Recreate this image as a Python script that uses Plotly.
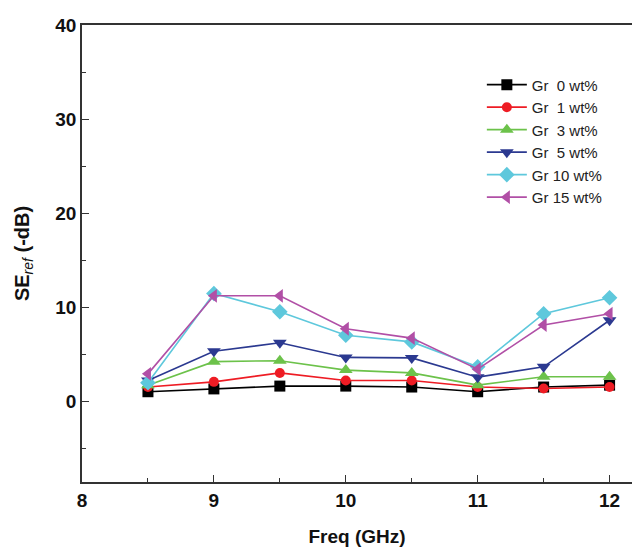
import plotly.graph_objects as go

freq = [8.5, 9.0, 9.5, 10.0, 10.5, 11.0, 11.5, 12.0]

gr0 = [1.0, 1.3, 1.6, 1.6, 1.5, 1.0, 1.5, 1.7]
gr1 = [1.5, 2.05, 3.0, 2.2, 2.2, 1.5, 1.35, 1.5]
gr3 = [1.7, 4.2, 4.3, 3.3, 3.0, 1.7, 2.6, 2.6]
gr5 = [2.2, 5.3, 6.2, 4.65, 4.6, 2.55, 3.65, 8.6]
gr10 = [1.95, 11.45, 9.5, 7.0, 6.3, 3.65, 9.3, 11.0]
gr15 = [2.9, 11.2, 11.2, 7.7, 6.7, 3.4, 8.1, 9.3]

series_names = ["Gr  0 wt%", "Gr  1 wt%", "Gr  3 wt%", "Gr  5 wt%", "Gr 10 wt%", "Gr 15 wt%"]
series_values = [gr0, gr1, gr3, gr5, gr10, gr15]
colors = ["#000000", "#ee1c24", "#6cc24a", "#2b3990", "#5ec8dc", "#b14fa6"]
symbols = ["square", "circle", "triangle-up", "triangle-down", "diamond", "triangle-left"]
sizes = [11, 10, 12, 12, 12, 12]

x_ticks = [8, 9, 10, 11, 12]
y_ticks = [0, 10, 20, 30, 40]

FONT = "Liberation Sans, Arial, sans-serif"

fig = go.Figure()
for name, vals, col, sym, sz in zip(series_names, series_values, colors, symbols, sizes):
    fig.add_trace(go.Scatter(
        x=freq, y=vals, name=name, mode="lines+markers",
        line=dict(color=col, width=1.6),
        marker=dict(symbol=sym, size=sz, color=col),
    ))

axis_font = dict(family=FONT, size=19, color="#111111")

fig.update_layout(
    width=632, height=550,
    margin=dict(l=82, r=0, t=25, b=68),
    plot_bgcolor="white", paper_bgcolor="white",
    showlegend=True,
    legend=dict(
        x=0.727, y=0.905, xanchor="left", yanchor="top",
        font=dict(family=FONT, size=15, color="#222222"),
        bgcolor="rgba(0,0,0,0)", tracegroupgap=0, itemwidth=40,
    ),
    xaxis=dict(
        range=[8, 12.17], tickvals=x_ticks, ticktext=[f"<b>{v}</b>" for v in x_ticks],
        ticks="inside", ticklen=7, tickwidth=1.2, tickcolor="#333",
        minor=dict(dtick=0.5, ticks="inside", ticklen=4, tickcolor="#333"),
        showline=True, linecolor="#333", linewidth=1.5, mirror=True,
        showgrid=False, zeroline=False, tickfont=axis_font,
        title=dict(text="<b>Freq (GHz)</b>", font=dict(family=FONT, size=19, color="#111"), standoff=20),
    ),
    yaxis=dict(
        range=[-8.6, 40], tickvals=y_ticks, ticktext=[f"<b>{v}</b>" for v in y_ticks],
        ticks="inside", ticklen=7, tickwidth=1.2, tickcolor="#333",
        minor=dict(dtick=5, ticks="inside", ticklen=4, tickcolor="#333"),
        showline=True, linecolor="#333", linewidth=1.5, mirror=False,
        showgrid=False, zeroline=False, tickfont=axis_font,
        title=dict(text="<b>SE</b><sub><i>ref</i></sub><b> (-dB)</b>", font=dict(family=FONT, size=20, color="#111"), standoff=20),
    ),
)

fig.write_html("out.html")
